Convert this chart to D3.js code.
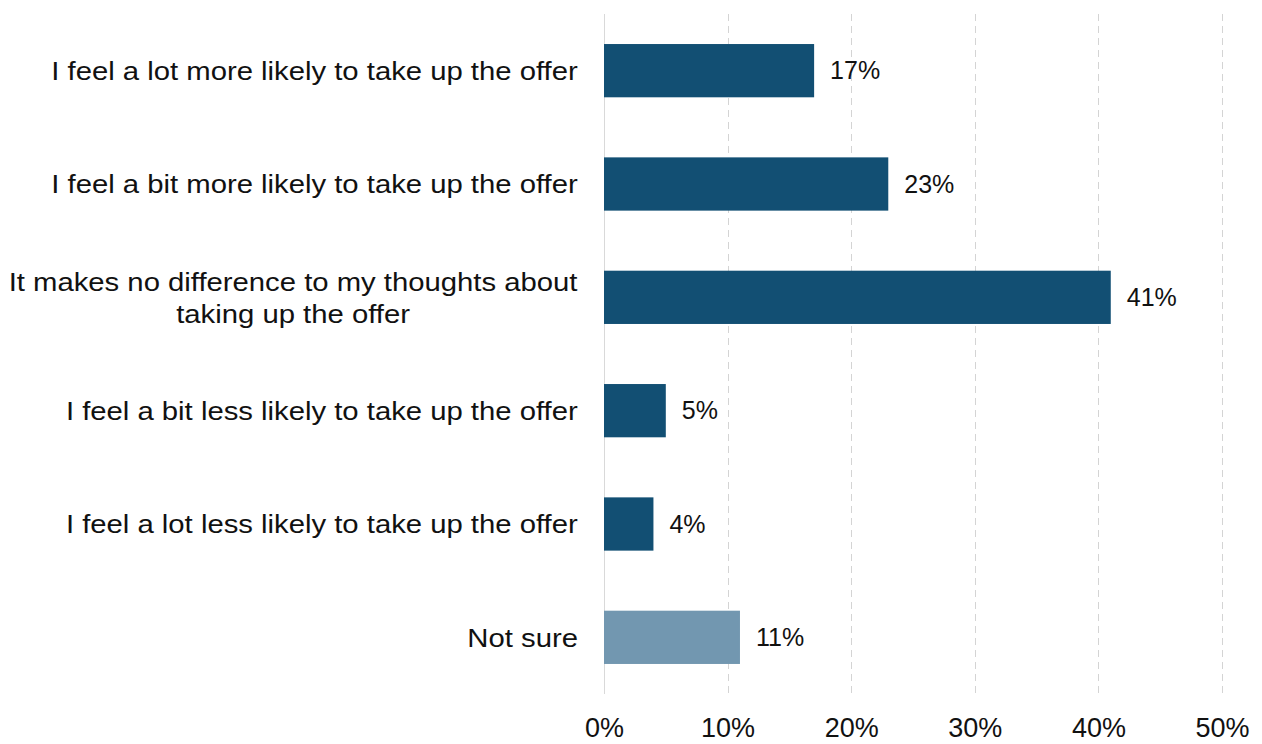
<!DOCTYPE html>
<html>
<head>
<meta charset="utf-8">
<script src="https://cdn.jsdelivr.net/npm/d3@7"></script>
<style>
  html, body { margin: 0; padding: 0; background: #fff; }
  svg { display: block; font-family: "Liberation Sans", Arial, sans-serif; }
</style>
</head>
<body>
<svg id="chart" width="1262" height="744"></svg>
<script>
// Survey responses (percent of respondents)
const categories = [
  "I feel a lot more likely to take up the offer",
  "I feel a bit more likely to take up the offer",
  "It makes no difference to my thoughts about|taking up the offer",
  "I feel a bit less likely to take up the offer",
  "I feel a lot less likely to take up the offer",
  "Not sure"
];
const values = [17, 23, 41, 5, 4, 11];
const tickValues = [0, 10, 20, 30, 40, 50];

const svg = d3.select("#chart");
const plotLeft = 604, plotRight = 1222, plotTop = 14, plotBottom = 694;

const x = d3.scaleLinear().domain([0, 50]).range([plotLeft, plotRight]);
const y = d3.scaleBand().domain(categories).range([plotTop, plotBottom])
  .paddingInner(0.53).paddingOuter(0.265);

// vertical gridlines (dashed) and solid baseline at zero
svg.append("g").selectAll("line")
  .data(tickValues.filter(d => d > 0))
  .join("line")
  .attr("x1", d => Math.round(x(d)) + 0.5)
  .attr("x2", d => Math.round(x(d)) + 0.5)
  .attr("y1", plotTop).attr("y2", plotBottom)
  .attr("stroke", "#d4d4d4").attr("stroke-width", 1)
  .attr("stroke-dasharray", "7,5");

svg.append("line")
  .attr("x1", Math.round(x(0)) + 0.5).attr("x2", Math.round(x(0)) + 0.5)
  .attr("y1", plotTop).attr("y2", plotBottom)
  .attr("stroke", "#d9d9d9").attr("stroke-width", 1);

// x-axis tick labels
const xAxis = d3.axisBottom(x).tickValues(tickValues)
  .tickFormat(d => d + "%").tickSize(0).tickPadding(0);
const gx = svg.append("g").attr("transform", `translate(0, 718)`).call(xAxis);
gx.select(".domain").remove();
gx.selectAll("text")
  .attr("font-size", 27).attr("fill", "#111").attr("dy", "0.71em")
  .attr("font-family", "Liberation Sans, Arial, sans-serif");

// bars
svg.append("g").selectAll("rect")
  .data(categories)
  .join("rect")
  .attr("x", x(0))
  .attr("y", d => y(d))
  .attr("width", (d, i) => x(values[i]) - x(0))
  .attr("height", y.bandwidth())
  .attr("fill", (d, i) => i === categories.length - 1 ? "#7297b0" : "#124f73");

// value labels
svg.append("g").selectAll("text")
  .data(categories)
  .join("text")
  .attr("x", (d, i) => x(values[i]) + 16)
  .attr("y", d => y(d) + y.bandwidth() / 2)
  .attr("dy", "0.35em")
  .attr("font-size", 25).attr("fill", "#111")
  .text((d, i) => values[i] + "%");

// category labels (right-aligned block, lines centred, may wrap onto two lines)
const labelSize = 26.5, lineHeight = 32, labelRight = 578, stretch = 1.105;
const labels = svg.append("g").selectAll("text")
  .data(categories)
  .join("text")
  .attr("text-anchor", "middle")
  .attr("font-size", labelSize).attr("fill", "#111")
  .attr("y", d => y(d) + y.bandwidth() / 2);

labels.each(function(d) {
  const lines = d.split("|");
  const t = d3.select(this);
  const off = -(lines.length - 1) * lineHeight / 2;
  lines.forEach((ln, k) => {
    t.append("tspan").attr("x", 0)
      .attr("dy", k === 0 ? (off / labelSize + 0.35) + "em" : lineHeight + "px")
      .text(ln);
  });
});
labels.each(function() {
  const bb = this.getBBox();
  const cx = labelRight - bb.width / 2;
  d3.select(this).selectAll("tspan").attr("x", cx);
  d3.select(this).attr("transform",
    `translate(${labelRight},0) scale(${stretch},1) translate(${-labelRight},0)`);
});
</script>
</body>
</html>
